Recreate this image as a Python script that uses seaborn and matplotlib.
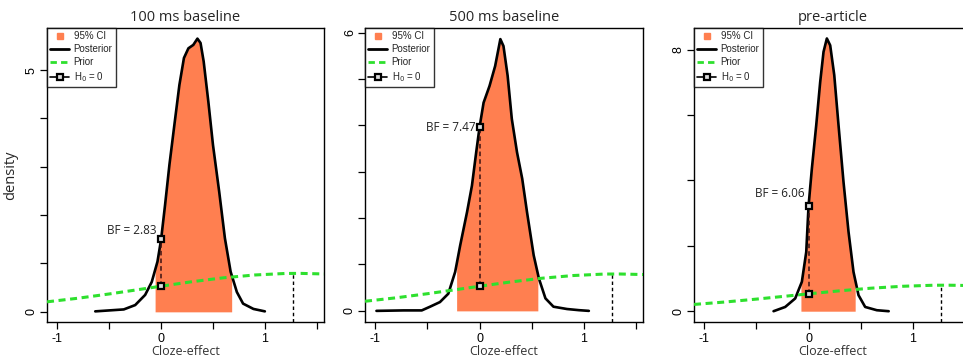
import numpy as np
import pandas as pd
import matplotlib
matplotlib.use("Agg")
import matplotlib.pyplot as plt
import seaborn as sns
from matplotlib.lines import Line2D

# =============================================================================
# Data
# =============================================================================

panel_titles = ["100 ms baseline", "500 ms baseline", "pre-article"]
bf_values = [2.83, 7.47, 6.06]

# posterior density traces
post1_x = [-0.635, -0.36, -0.25, -0.154, -0.09, -0.035, 0.0, 0.038, 0.08, 0.128,
           0.176, 0.22, 0.263, 0.31, 0.35, 0.38, 0.41, 0.455, 0.50, 0.56,
           0.615, 0.67, 0.73, 0.79, 0.89, 1.0]
post1_y = [0.01, 0.05, 0.14, 0.35, 0.62, 1.04, 1.50, 2.21, 3.04, 3.87,
           4.69, 5.25, 5.45, 5.52, 5.65, 5.56, 5.18, 4.35, 3.45, 2.48,
           1.52, 0.83, 0.41, 0.17, 0.06, 0.01]

post2_x = [-0.99, -0.73, -0.555, -0.475, -0.38, -0.30, -0.234, -0.186, -0.12, -0.073,
           -0.032, 0.0, 0.039, 0.096, 0.15, 0.20, 0.23, 0.27, 0.31, 0.36,
           0.41, 0.456, 0.52, 0.57, 0.633, 0.71, 0.84, 0.955, 1.05]
post2_y = [0.0, 0.01, 0.01, 0.09, 0.19, 0.37, 0.84, 1.41, 2.13, 2.70,
           3.42, 3.96, 4.49, 4.85, 5.28, 5.86, 5.71, 5.07, 4.14, 3.42,
           2.85, 2.13, 1.20, 0.70, 0.27, 0.09, 0.04, 0.015, 0.0]

post3_x = [-0.336, -0.224, -0.128, -0.064, -0.022, 0.0, 0.032, 0.074, 0.112, 0.144,
           0.176, 0.208, 0.247, 0.288, 0.336, 0.384, 0.432, 0.48, 0.544, 0.656, 0.77]
post3_y = [0.0, 0.13, 0.39, 0.90, 1.81, 3.21, 4.36, 5.69, 7.01, 7.93,
           8.34, 8.13, 7.22, 5.69, 3.95, 2.43, 1.20, 0.49, 0.13, 0.03, 0.0]

# 95% credible intervals
ci_low = [-0.058, -0.22, -0.073]
ci_high = [0.68, 0.56, 0.448]

# prior density (same in all panels)
prior_x = [-1.1, -0.8, -0.5, -0.2, 0.0, 0.3, 0.6, 0.9, 1.2, 1.35, 1.6]
prior_y = [0.207, 0.282, 0.370, 0.466, 0.531, 0.624, 0.704, 0.762, 0.794, 0.795, 0.782]
prior_mark_x = 1.27

y_max_tick = [5, 6, 8]
y_tick_step = [1, 1, 2]

# =============================================================================
# Styling / layout
# =============================================================================

CI_COL = "#FF7F50"
PRIOR_COL = "#2EE02E"
PRIOR_LS = (0, (2.3, 1.5))
FW, FH = 963, 364

axes_px = [(47, 28, 277, 294), (365, 28, 278, 294), (694, 28, 278, 294)]
ylims = [(-0.21, 5.87), (-0.24, 6.1), (-0.33, 8.66)]
bf_text_offset = [(-3, 6), (-3, 0), (-3, 9)]  # points

sns.set_style("ticks")
plt.rcParams["font.family"] = ["Liberation Sans", "DejaVu Sans"]
LABEL_FONT = ["Open Sans", "DejaVu Sans"]

fig = plt.figure(figsize=(FW / 100, FH / 100), dpi=100)

posts = [(post1_x, post1_y), (post2_x, post2_y), (post3_x, post3_y)]
prior_df = pd.DataFrame({"x": prior_x, "y": prior_y})

for i, (px, py) in enumerate(posts):
    l, t, w, h = axes_px[i]
    ax = fig.add_axes([l / FW, (FH - t - h) / FH, w / FW, h / FH])

    post_df = pd.DataFrame({"x": px, "y": py})

    # CI fill under posterior
    px_a, py_a = np.array(px), np.array(py)
    inside = (px_a > ci_low[i]) & (px_a < ci_high[i])
    fx = np.concatenate([[ci_low[i]], px_a[inside], [ci_high[i]]])
    fy = np.concatenate([[np.interp(ci_low[i], px_a, py_a)], py_a[inside],
                         [np.interp(ci_high[i], px_a, py_a)]])
    ax.fill_between(fx, 0, fy, color=CI_COL, lw=0, zorder=1)

    sns.lineplot(data=post_df, x="x", y="y", sort=False, estimator=None,
                 color="black", lw=1.9, ax=ax, zorder=3)
    sns.lineplot(data=prior_df, x="x", y="y", sort=False, estimator=None,
                 color=PRIOR_COL, lw=2.2, linestyle=PRIOR_LS, ax=ax, zorder=4)

    # Savage-Dickey points at 0
    post0 = np.interp(0.0, px_a, py_a)
    prior0 = np.interp(0.0, prior_x, prior_y)
    ax.plot([0, 0], [prior0, post0], ls=(0, (3, 2)), color="#3a1212", lw=1.1, zorder=5)
    ax.plot([0, 0], [prior0, post0], ls="none", marker="s", ms=5,
            mfc="#dddddd", mec="black", mew=1.6, zorder=6)
    ax.annotate(f"BF = {bf_values[i]:.2f}", (0, post0),
                xytext=bf_text_offset[i], textcoords="offset points",
                ha="right", va="center", fontsize=8.5, family=LABEL_FONT,
                color="#222222", zorder=7)

    # dashed marker line at prior location
    ax.plot([prior_mark_x, prior_mark_x],
            [ylims[i][0], np.interp(prior_mark_x, prior_x, prior_y)],
            ls=(0, (2.5, 2)), color="black", lw=1.0, zorder=2)

    ax.set_xlim(-1.1, 1.57)
    ax.set_ylim(*ylims[i])
    xt = np.arange(-1, 1.51, 0.5)
    ax.set_xticks(xt)
    ax.set_xticklabels([f"{v:g}" if float(v).is_integer() else "" for v in xt])
    yt = np.arange(0, y_max_tick[i] + 0.1, y_tick_step[i])
    ax.set_yticks(yt)
    ax.set_yticklabels([f"{v:g}" if v in (0, y_max_tick[i]) else "" for v in yt],
                       rotation=90, va="center")
    ax.tick_params(length=5, width=0.9, pad=3, labelsize=9, colors="black")
    ax.tick_params(axis="y", pad=1.5)
    for sp in ax.spines.values():
        sp.set_visible(True)
        sp.set_linewidth(1.0)
        sp.set_color("black")

    ax.set_title(panel_titles[i], fontsize=10.5, family=LABEL_FONT, pad=5)
    ax.set_xlabel("Cloze-effect", fontsize=9, family=LABEL_FONT, labelpad=0, color="#333333")
    if i == 0:
        ax.set_ylabel("density", fontsize=10.5, family=LABEL_FONT)
        ax.yaxis.set_label_coords(-0.105, 0.5)
    else:
        ax.set_ylabel("")

    handles = [
        Line2D([], [], ls="none", marker="s", ms=5, color=CI_COL),
        Line2D([], [], color="black", lw=2),
        Line2D([], [], color=PRIOR_COL, lw=2, ls=PRIOR_LS),
        Line2D([], [], color="black", lw=1.2, marker="s", ms=5, mfc="#dddddd", mec="black", mew=1.6),
    ]
    leg = ax.legend(handles, ["95% CI", "Posterior", "Prior", r"H$_0$ = 0"],
                    loc="upper left", borderaxespad=0, fontsize=7, frameon=True,
                    fancybox=False, handlelength=1.9, handletextpad=0.5,
                    borderpad=0.35, labelspacing=0.3)
    leg.get_frame().set_edgecolor("black")
    leg.get_frame().set_linewidth(1.0)
    leg.set_zorder(10)

fig.savefig("out.png", dpi=100)
